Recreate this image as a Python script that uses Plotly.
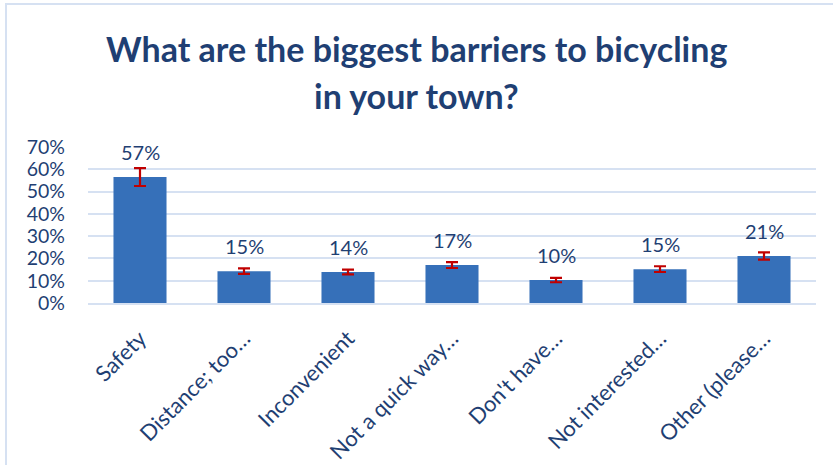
import plotly.graph_objects as go

categories = ["Safety", "Distance; too…", "Inconvenient", "Not a quick way…",
              "Don't have…", "Not interested…", "Other (please…"]
values = [0.565, 0.143, 0.139, 0.170, 0.103, 0.152, 0.211]
labels = ["57%", "15%", "14%", "17%", "10%", "15%", "21%"]
errors = [0.040, 0.012, 0.011, 0.013, 0.010, 0.013, 0.016]
tick_vals = [0, 0.1, 0.2, 0.3, 0.4, 0.5, 0.6, 0.7]
tick_text = ["0%", "10%", "20%", "30%", "40%", "50%", "60%", "70%"]
title_lines = ["What are the biggest barriers to bicycling", "in your town?"]

navy = "#1F3F73"
grid = "#D6E1F2"
font = "Lato"

fig = go.Figure()
fig.add_trace(go.Bar(
    x=categories, y=values,
    marker=dict(color="#3670B9", line=dict(width=0)),
    error_y=dict(type="data", array=errors, visible=True,
                 color="#C00000", thickness=2.2, width=6),
    hoverinfo="skip",
))

for c, v, t in zip(categories, values, labels):
    fig.add_annotation(x=c, y=v, text=t, showarrow=False, yanchor="middle",
                       yshift=25, font=dict(family=font, size=20, color=navy))

L, R, T, B = 88, 17, 147, 162
W, H = 833, 465
pw, ph = W - L - R, H - T - B

for line, py in zip(title_lines, [48, 95]):
    fig.add_annotation(xref="paper", yref="paper", x=(W / 2 - L) / pw,
                       y=(H - B - py) / ph, text="<b>" + line + "</b>",
                       showarrow=False, xanchor="center", yanchor="middle",
                       font=dict(family=font, size=34, color=navy))

fig.add_shape(type="rect", xref="paper", yref="paper",
              x0=(6 - L) / pw, x1=(W + 20 - L) / pw,
              y0=-(H + 20 - (H - B)) / ph, y1=(H - B - 4) / ph,
              line=dict(color=grid, width=2), layer="below")

fig.update_layout(
    width=W, height=H,
    margin=dict(l=L, r=R, t=T, b=B, autoexpand=False),
    paper_bgcolor="white", plot_bgcolor="white",
    showlegend=False,
    bargap=0.49,
    font=dict(family=font, color=navy),
)
fig.update_xaxes(tickangle=-45, tickfont=dict(family=font, size=22, color=navy),
                 showgrid=False, showline=True, linecolor=grid, linewidth=2,
                 ticks="", ticklabelstandoff=12, automargin=False)
fig.update_yaxes(range=[0, 0.7], tickvals=tick_vals, ticktext=tick_text,
                 tickfont=dict(family=font, size=19.5, color=navy),
                 showgrid=True, gridcolor=grid, gridwidth=2, automargin=False,
                 zeroline=False, showline=False, ticks="", ticklabelstandoff=22)

fig.write_html("out.html")
